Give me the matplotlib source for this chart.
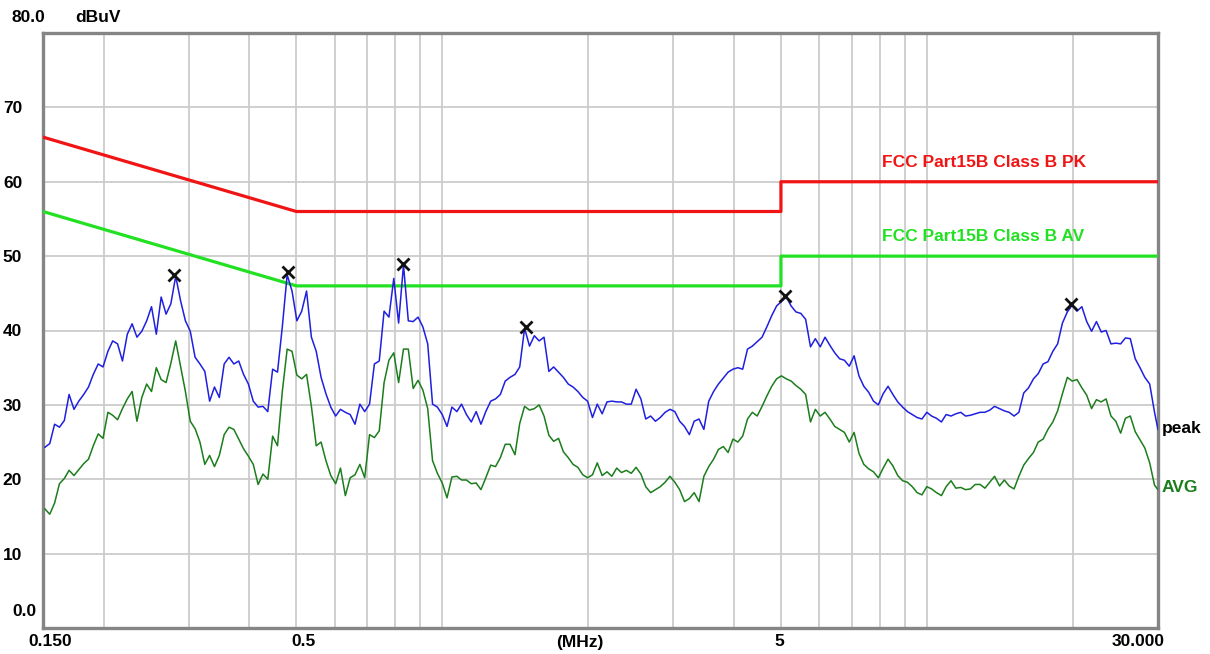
import matplotlib
matplotlib.use("Agg")
import matplotlib.pyplot as plt
from matplotlib.ticker import FixedLocator, NullLocator

# sweep frequencies (MHz) and the two receiver traces (dBuV)
FREQ_MHZ = [
    0.1514, 0.1549, 0.1585, 0.1622, 0.1660, 0.1698, 0.1738, 0.1778, 0.1820, 0.1862,
    0.1905, 0.1950, 0.1995, 0.2042, 0.2089, 0.2138, 0.2188, 0.2239, 0.2291, 0.2344,
    0.2399, 0.2455, 0.2512, 0.2570, 0.2630, 0.2692, 0.2754, 0.2818, 0.2884, 0.2951,
    0.3020, 0.3090, 0.3162, 0.3236, 0.3311, 0.3388, 0.3467, 0.3548, 0.3631, 0.3715,
    0.3802, 0.3890, 0.3981, 0.4074, 0.4169, 0.4266, 0.4365, 0.4467, 0.4571, 0.4677,
    0.4786, 0.4898, 0.5012, 0.5129, 0.5248, 0.5370, 0.5495, 0.5623, 0.5754, 0.5888,
    0.6026, 0.6166, 0.6310, 0.6457, 0.6607, 0.6761, 0.6918, 0.7079, 0.7244, 0.7413,
    0.7586, 0.7762, 0.7943, 0.8128, 0.8318, 0.8511, 0.8710, 0.8913, 0.9120, 0.9333,
    0.9550, 0.9772,
    1.000, 1.023, 1.047, 1.072, 1.096, 1.122, 1.148, 1.175, 1.202, 1.230,
    1.259, 1.288, 1.318, 1.349, 1.380, 1.413, 1.445, 1.479, 1.514, 1.549,
    1.585, 1.622, 1.660, 1.698, 1.738, 1.778, 1.820, 1.862, 1.905, 1.950,
    1.995, 2.042, 2.089, 2.138, 2.188, 2.239, 2.291, 2.344, 2.399, 2.455,
    2.512, 2.570, 2.630, 2.692, 2.754, 2.818, 2.884, 2.951, 3.020, 3.090,
    3.162, 3.236, 3.311, 3.388, 3.467, 3.548, 3.631, 3.715, 3.802, 3.890,
    3.981, 4.074, 4.169, 4.266, 4.365, 4.467, 4.571, 4.677, 4.786, 4.898,
    5.012, 5.129, 5.248, 5.370, 5.495, 5.623, 5.754, 5.888, 6.026, 6.166,
    6.310, 6.457, 6.607, 6.761, 6.918, 7.079, 7.244, 7.413, 7.586, 7.762,
    7.943, 8.128, 8.318, 8.511, 8.710, 8.913, 9.120, 9.333, 9.550, 9.772,
    10.00, 10.23, 10.47, 10.72, 10.96, 11.22, 11.48, 11.75, 12.02, 12.30,
    12.59, 12.88, 13.18, 13.49, 13.80, 14.13, 14.45, 14.79, 15.14, 15.49,
    15.85, 16.22, 16.60, 16.98, 17.38, 17.78, 18.20, 18.62, 19.05, 19.50,
    19.95, 20.42, 20.89, 21.38, 21.88, 22.39, 22.91, 23.44, 23.99, 24.55,
    25.12, 25.70, 26.30, 26.92, 27.54, 28.18, 28.84, 29.51, 30.00,
]

PEAK_DBUV = [
    24.3, 24.8, 27.4, 27.0, 27.9, 31.4, 29.4, 30.5, 31.4, 32.4,
    34.1, 35.5, 35.1, 37.2, 38.6, 38.2, 35.9, 39.5, 40.9, 39.1,
    39.9, 41.3, 43.2, 39.5, 44.5, 42.2, 43.6, 47.3, 44.0, 41.3,
    39.9, 36.4, 35.5, 34.5, 30.5, 32.4, 31.0, 35.5, 36.4, 35.5,
    35.9, 34.1, 32.8, 30.5, 29.7, 29.8, 29.1, 34.8, 34.4, 40.5,
    47.5, 45.3, 41.3, 42.6, 45.3, 39.1, 37.2, 33.7, 31.5, 29.7,
    28.5, 29.4, 29.0, 28.7, 27.4, 30.1, 29.1, 30.1, 35.5, 35.9,
    42.6, 41.8, 47.0, 41.0, 48.8, 41.3, 41.2, 41.8, 40.5, 38.2,
    30.1, 29.7, 28.7, 27.1, 29.7, 29.1, 30.1, 28.7, 27.7, 29.1,
    27.4, 29.1, 30.5, 30.8, 31.4, 33.2, 33.7, 34.1, 35.1, 40.3,
    37.9, 39.3, 38.6, 39.1, 34.5, 35.1, 34.4, 33.7, 32.8, 32.4,
    31.8, 31.0, 30.5, 28.3, 30.1, 28.8, 30.4, 30.5, 30.4, 30.4,
    30.1, 30.1, 32.1, 30.8, 28.1, 28.5, 27.8, 28.3, 29.0, 29.4,
    29.1, 27.8, 27.1, 26.0, 27.8, 28.1, 26.7, 30.5, 31.8, 32.8,
    33.6, 34.4, 34.8, 35.0, 34.8, 37.5, 37.9, 38.5, 39.1, 40.5,
    42.0, 43.3, 43.9, 44.5, 43.3, 42.5, 42.3, 41.5, 37.8, 38.9,
    37.8, 39.1, 38.0, 37.0, 36.2, 36.0, 35.2, 36.6, 33.9, 32.5,
    31.7, 30.5, 30.0, 31.5, 32.5, 31.4, 30.4, 29.7, 29.1, 28.7,
    28.3, 28.1, 29.0, 28.5, 28.2, 27.7, 28.7, 28.5, 28.8, 29.0,
    28.5, 28.6, 28.8, 29.0, 29.0, 29.3, 29.8, 29.5, 29.2, 29.0,
    28.5, 29.0, 31.6, 32.3, 33.5, 34.2, 35.5, 35.8, 37.2, 38.2,
    41.0, 42.5, 43.4, 42.6, 43.2, 41.2, 39.9, 41.2, 39.8, 40.0,
    38.2, 38.3, 38.2, 39.0, 38.9, 36.2, 35.0, 33.7, 32.8, 29.0,
    26.7,
]

AVG_DBUV = [
    16.0, 15.3, 16.8, 19.4, 20.1, 21.2, 20.5, 21.3, 22.1, 22.7,
    24.5, 26.1, 25.5, 29.0, 28.6, 28.0, 29.5, 30.8, 31.8, 27.8,
    31.0, 32.8, 31.8, 35.0, 33.4, 33.0, 35.6, 38.6, 35.2, 31.8,
    27.8, 26.8, 25.0, 22.0, 23.2, 21.7, 23.2, 26.0, 27.0, 26.7,
    25.4, 24.1, 23.1, 22.0, 19.3, 20.7, 20.0, 25.8, 24.5, 31.8,
    37.5, 37.2, 34.0, 33.5, 34.1, 29.8, 24.5, 25.0, 22.5, 20.5,
    19.4, 21.5, 17.8, 20.2, 20.6, 22.0, 20.2, 26.0, 25.6, 26.5,
    33.0, 36.0, 37.0, 33.0, 37.5, 37.5, 32.2, 33.3, 32.0, 29.5,
    22.5, 20.8, 19.5, 17.5, 20.3, 20.4, 19.9, 19.9, 19.4, 19.5,
    18.6, 20.2, 21.9, 21.7, 22.9, 24.7, 24.7, 23.3, 27.5, 29.8,
    29.3, 29.5, 30.0, 28.5, 25.9, 25.1, 25.5, 23.7, 22.9, 22.0,
    21.6, 20.6, 20.2, 20.6, 22.2, 20.5, 21.0, 20.4, 21.5, 20.9,
    21.2, 20.8, 21.6, 20.7, 19.0, 18.2, 18.6, 19.0, 19.6, 20.4,
    19.6, 18.6, 17.0, 17.4, 18.2, 17.0, 20.4, 21.7, 22.7, 24.0,
    24.4, 23.6, 25.4, 25.0, 25.8, 28.1, 29.0, 28.5, 29.8, 31.2,
    32.5, 33.5, 33.9, 33.5, 33.2, 32.6, 32.1, 31.4, 27.7, 29.4,
    28.5, 29.0, 28.1, 27.1, 26.7, 26.3, 25.0, 26.3, 23.5, 22.0,
    21.4, 21.0, 20.2, 21.5, 22.7, 21.8, 20.5, 19.8, 19.6, 19.0,
    18.2, 17.9, 19.0, 18.7, 18.2, 17.8, 19.0, 19.8, 18.8, 18.9,
    18.6, 18.7, 19.3, 19.3, 18.8, 19.6, 20.4, 19.1, 19.9, 19.1,
    18.7, 20.4, 21.9, 22.8, 23.6, 25.0, 25.4, 26.7, 27.7, 29.2,
    31.5, 33.7, 33.2, 33.4, 32.3, 31.3, 29.5, 30.7, 30.4, 30.8,
    28.5, 27.8, 26.2, 28.2, 28.5, 26.4, 25.3, 24.2, 22.2, 19.2,
    18.6,
]

# FCC Part 15B class B conducted limits
LIMIT_F = [0.15, 0.5, 5.0, 5.0, 30.0]
PK_LIMIT = [66, 56, 56, 60, 60]
AV_LIMIT = [56, 46, 46, 50, 50]

# marked peaks
MARK_F = [0.280, 0.480, 0.830, 1.49, 5.10, 19.8]
MARK_DB = [47.5, 47.9, 49.0, 40.5, 44.7, 43.6]

Y_TICKS = [10, 20, 30, 40, 50, 60, 70]
GRID_F = [0.2, 0.3, 0.4, 0.5, 0.6, 0.7, 0.8, 0.9, 1, 2, 3, 4, 5, 6, 7, 8, 9, 10, 20]

FONT = ["Liberation Sans", "DejaVu Sans"]
FS = 12.5
W, H = 1210, 654

fig = plt.figure(figsize=(W / 100, H / 100), dpi=100)
ax = fig.add_axes([43 / W, 26 / H, 1115 / W, 595 / H])


def ftext(xp, yp, s, **kw):
    fig.text(xp / W, 1 - yp / H, s, family=FONT, weight="bold", fontsize=FS,
             va="center", **kw)


ax.set_xscale("log")
ax.set_xlim(0.15, 30)
ax.set_ylim(0, 80)
ax.xaxis.set_major_locator(FixedLocator(GRID_F))
ax.xaxis.set_minor_locator(NullLocator())
ax.set_yticks(Y_TICKS)
ax.set_yticklabels([str(v) for v in Y_TICKS], family=FONT, weight="bold", fontsize=FS)
ax.tick_params(axis="x", length=0, labelbottom=False)
ax.tick_params(axis="y", length=0, pad=15)
ax.grid(True, color="#cbcbcb", lw=1.3)
ax.set_axisbelow(True)
for sp in ax.spines.values():
    sp.set_color("#858585")
    sp.set_linewidth(2.4)

ax.plot(LIMIT_F, PK_LIMIT, color="#f01414", lw=2.3, zorder=3)
ax.plot(LIMIT_F, AV_LIMIT, color="#22e022", lw=2.3, zorder=3)
ax.plot(FREQ_MHZ, AVG_DBUV, color="#1c7d1c", lw=1.1, zorder=4)
ax.plot(FREQ_MHZ, PEAK_DBUV, color="#1f1fe0", lw=1.1, zorder=5)
ax.plot(MARK_F, MARK_DB, ls="none", marker="x", ms=9, mew=2, color="#111111", zorder=6)

ftext(12, 18, "80.0", ha="left")
ftext(75, 18, "dBuV", ha="left")
ftext(12, 612, "0.0", ha="left")
ftext(50, 642, "0.150", ha="center")
ftext(303, 642, "0.5", ha="center")
ftext(580, 642, "(MHz)", ha="center")
ftext(779, 642, "5", ha="center")
ftext(1138, 642, "30.000", ha="center")
ftext(882, 162, "FCC Part15B Class B PK", ha="left", color="#f01414")
ftext(882, 237, "FCC Part15B Class B AV", ha="left", color="#22e022")
ftext(1162, 429, "peak", ha="left", color="black")
ftext(1162, 488, "AVG", ha="left", color="#1c7d1c")

fig.savefig("out.png", dpi=100)
